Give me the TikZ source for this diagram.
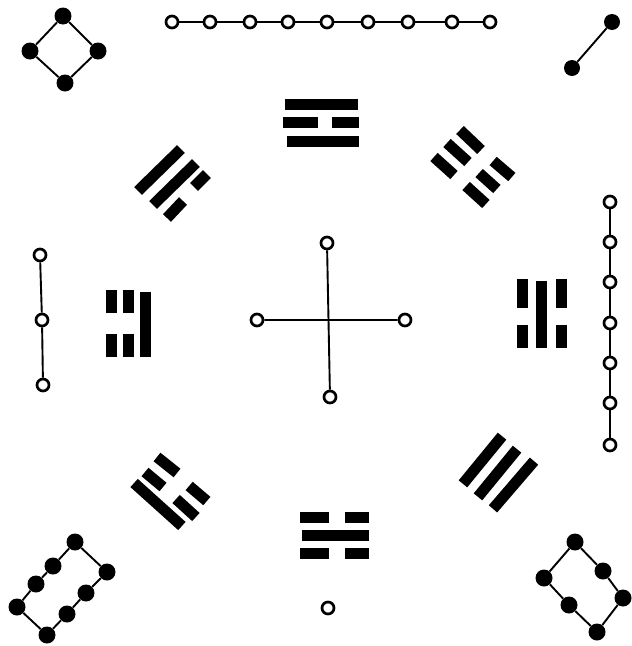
\documentclass[tikz,border=0pt]{standalone}
\begin{document}
\begin{tikzpicture}[x=1pt,y=-1pt,
  blackdot/.style={circle,fill=black,inner sep=0pt,minimum size=17pt},
  opendot/.style={circle,draw=black,fill=white,line width=2.7pt,inner sep=0pt,minimum size=12pt},
  link/.style={line width=1.9pt},
  tri/.style={line width=11pt,line cap=butt,line join=round,shorten <=1.5pt,shorten >=1.5pt}]
\useasboundingbox (0,0) rectangle (632,646);
% ---- 4 : top-left diamond
\node[blackdot] (a1) at (63,16) {};
\node[blackdot] (a2) at (30,51) {};
\node[blackdot] (a3) at (98,51) {};
\node[blackdot] (a4) at (65,83) {};
\draw[link] (a1)--(a2) (a2)--(a4) (a4)--(a3) (a3)--(a1);
% ---- 9 : top chain
\foreach \i/\x in {1/172,2/210,3/250,4/288,5/327,6/368,7/408,8/452,9/490}
  \node[opendot] (n\i) at (\x,22) {};
\foreach \i/\j in {1/2,2/3,3/4,4/5,5/6,6/7,7/8,8/9}
  \draw[link] (n\i)--(n\j);
% ---- 2 : top-right
\node[blackdot,minimum size=16pt] (b1) at (612,22) {};
\node[blackdot,minimum size=16pt] (b2) at (572,68) {};
\draw[link] (b1)--(b2);
% ---- 3 : left chain
\node[opendot] (c1) at (40,255) {};
\node[opendot] (c2) at (42,320) {};
\node[opendot] (c3) at (43,385) {};
\draw[link] (c1)--(c2) (c2)--(c3);
% ---- 7 : right chain
\foreach \i/\y in {1/202,2/242,3/282,4/323,5/363,6/403,7/445}
  \node[opendot] (s\i) at (610,\y) {};
\foreach \i/\j in {1/2,2/3,3/4,4/5,5/6,6/7}
  \draw[link] (s\i)--(s\j);
% ---- 5 : centre cross
\node[opendot] (m1) at (327,243) {};
\node[opendot] (m2) at (330,397) {};
\node[opendot] (m3) at (257,320) {};
\node[opendot] (m4) at (405,320) {};
\draw[link] (m1)--(m2) (m3)--(m4);
% ---- 1 : bottom
\node[opendot] (one) at (328,608) {};
% ---- 8 : bottom-left
\node[blackdot] (d1) at (75,542) {};
\node[blackdot] (d2) at (53,566) {};
\node[blackdot] (d3) at (36,584) {};
\node[blackdot] (d4) at (17,607) {};
\node[blackdot] (d5) at (47,635) {};
\node[blackdot] (d6) at (67,614) {};
\node[blackdot] (d7) at (86,593) {};
\node[blackdot] (d8) at (107,572) {};
\draw[link] (d1)--(d2) (d2)--(d3) (d3)--(d4) (d4)--(d5) (d5)--(d6) (d6)--(d7) (d7)--(d8) (d8)--(d1);
% ---- 6 : bottom-right
\node[blackdot] (e1) at (575,542) {};
\node[blackdot] (e2) at (603,571) {};
\node[blackdot] (e3) at (623,598) {};
\node[blackdot] (e4) at (597,632) {};
\node[blackdot] (e5) at (569,605) {};
\node[blackdot] (e6) at (544,578) {};
\draw[link] (e1)--(e2) (e2)--(e3) (e3)--(e4) (e4)--(e5) (e5)--(e6) (e6)--(e1);
% ---- trigrams
% top
\draw[tri] (283,104)--(359,104);
\draw[tri] (283,122)--(318,122) (330,122)--(360,122);
\draw[tri] (285,141)--(360,141);
% bottom
\draw[tri] (300,517)--(329,517) (343,517)--(370,517);
\draw[tri] (300,535)--(370,535);
\draw[tri] (300,553)--(329,553) (343,553)--(370,553);
% left
\draw[tri] (111,290)--(111,313) (111,332)--(111,358);
\draw[tri] (128,290)--(128,313) (128,332)--(128,358);
\draw[tri] (145,290)--(145,358);
% right
\draw[tri] (522,279)--(522,308) (522,323)--(522,349);
\draw[tri] (541,279)--(541,349);
\draw[tri] (561,279)--(561,308) (561,323)--(561,349);
% upper-left
\draw[tri] (137,192)--(182,148);
\draw[tri] (152,206)--(197,162);
\draw[tri] (167,218)--(183,201) (193,188)--(208,173);
% upper-right
\draw[tri] (460,130)--(481,150) (492,160)--(513,178);
\draw[tri] (447,143)--(468,162) (478,172)--(498,190);
\draw[tri] (434,157)--(454,175) (465,185)--(487,205);
% lower-left
\draw[tri] (133,482)--(183,527);
\draw[tri] (145,472)--(163,487) (175,498)--(197,518);
\draw[tri] (157,457)--(177,473) (188,485)--(208,502);
% lower-right
\draw[tri] (462,485)--(503,435);
\draw[tri] (477,498)--(518,448);
\draw[tri] (492,510)--(535,460);
\end{tikzpicture}
\end{document}
